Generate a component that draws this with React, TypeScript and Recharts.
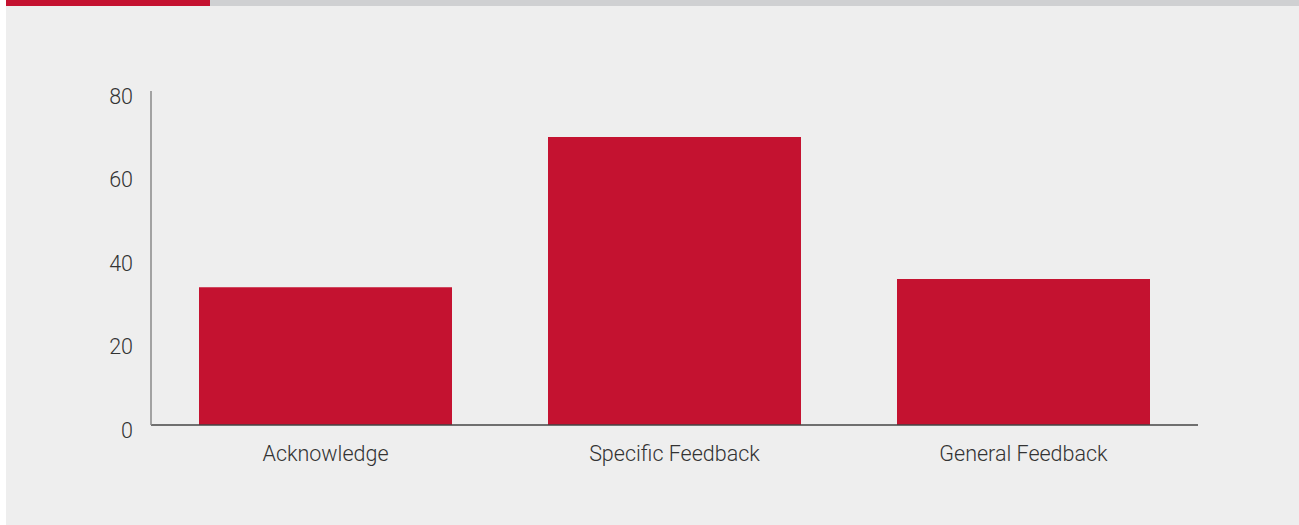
import { Bar, BarChart, XAxis, YAxis } from "recharts";

const categories = ["Acknowledge", "Specific Feedback", "General Feedback"];
const counts = [33, 69, 35];
const yTicks = [0, 20, 40, 60, 80];

const data = categories.map((name, i) => ({ name, value: counts[i] }));

const font = "Roboto, 'Liberation Sans', Arial, sans-serif";

export default function App() {
    return (
        <div style={{ position: "absolute", left: 6, top: 0, width: 1293, height: 525, background: "#eeeeee", fontFamily: font }}>
            <div style={{ position: "absolute", left: 0, top: 0, width: 1293, height: 6, background: "#cfd0d2" }} />
            <div style={{ position: "absolute", left: 0, top: 0, width: 204, height: 6, background: "#c41230" }} />
            <BarChart
                width={1293}
                height={525}
                data={data}
                margin={{ top: 91, right: 101, bottom: 70, left: 0 }}
                barCategoryGap={48}
            >
                <XAxis
                    dataKey="name"
                    height={30}
                    tickLine={false}
                    tickMargin={15}
                    axisLine={{ stroke: "#444444", strokeWidth: 1.5 }}
                    tick={{ fill: "#333333", fontSize: 21.5, fontWeight: 300, fontFamily: font }}
                />
                <YAxis
                    width={145}
                    domain={[0, 80]}
                    ticks={yTicks}
                    tickLine={false}
                    tickMargin={12}
                    axisLine={{ stroke: "#888888", strokeWidth: 1.5 }}
                    tick={{ fill: "#333333", fontSize: 21.5, fontWeight: 300, fontFamily: font, dy: 5 }}
                />
                <Bar dataKey="value" fill="#c41230" isAnimationActive={false} />
            </BarChart>
        </div>
    );
}
